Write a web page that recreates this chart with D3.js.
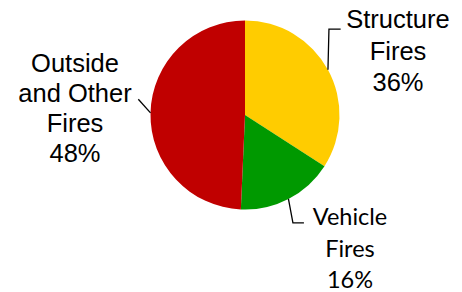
<!DOCTYPE html>
<html>
<head>
<meta charset="utf-8">
<script src="https://cdn.jsdelivr.net/npm/d3@7"></script>
<style>
  body { margin: 0; background: #fff; }
  svg { display: block; }
</style>
</head>
<body>
<div id="chart"></div>
<script>

// slice values as drawn (the printed percentages are kept as labels)
var categories = ["Structure Fires", "Vehicle Fires", "Outside and Other Fires"];
var values = [34.1, 16.6, 49.3];
var pctLabels = ["36%", "16%", "48%"];
var labelLines = [["Structure", "Fires"], ["Vehicle", "Fires"], ["Outside", "and Other", "Fires"]];
var colors = ["#FFCC00", "#009900", "#C00000"];

var width = 462, height = 292;
var cx = 245, cy = 115, radius = 94.5;

// leader elbow / text placement relative to each slice's edge point
var layout = [
  { elbow: [1, -40.7], end: [12.7, -40.7], tx: 398, ty: 28.3, step: 31.2, font: "'Liberation Sans', Arial, sans-serif", size: 25.5 },
  { elbow: [4.5, 24], end: [15.5, 24], tx: 350, ty: 225, step: 31.7, font: "Lato, 'Open Sans', sans-serif", size: 23.5 },
  { elbow: null, end: [-12.2, -13.7], tx: 75, ty: 72, step: 30, font: "'Liberation Sans', Arial, sans-serif", size: 25.5 }
];

var svg = d3.select("#chart").append("svg")
  .attr("width", width)
  .attr("height", height);

var pie = d3.pie().sort(null).value(function(d) { return d; });
var arcs = pie(values);

var arc = d3.arc().innerRadius(0).outerRadius(radius);

var g = svg.append("g").attr("transform", "translate(" + cx + "," + cy + ")");

g.selectAll("path.slice")
  .data(arcs)
  .enter().append("path")
  .attr("class", "slice")
  .attr("d", arc)
  .attr("fill", function(d, i) { return colors[i]; });

// leader lines
var line = d3.line();
g.selectAll("path.leader")
  .data(arcs)
  .enter().append("path")
  .attr("class", "leader")
  .attr("fill", "none")
  .attr("stroke", "#000")
  .attr("stroke-width", 1.3)
  .attr("d", function(d, i) {
    var a = (d.startAngle + d.endAngle) / 2;
    var p = [radius * Math.sin(a), -radius * Math.cos(a)];
    var L = layout[i];
    var pts = [p];
    if (L.elbow) pts.push([p[0] + L.elbow[0], p[1] + L.elbow[1]]);
    pts.push([p[0] + L.end[0], p[1] + L.end[1]]);
    return line(pts);
  });

// labels
labelLines.forEach(function(lines, i) {
  var L = layout[i];
  var t = svg.append("text")
    .attr("text-anchor", "middle")
    .attr("font-family", L.font)
    .attr("font-size", L.size)
    .attr("fill", "#000");
  lines.concat([pctLabels[i]]).forEach(function(s, k) {
    t.append("tspan")
      .attr("x", L.tx)
      .attr("y", L.ty + k * L.step)
      .text(s);
  });
});

</script>
</body>
</html>
